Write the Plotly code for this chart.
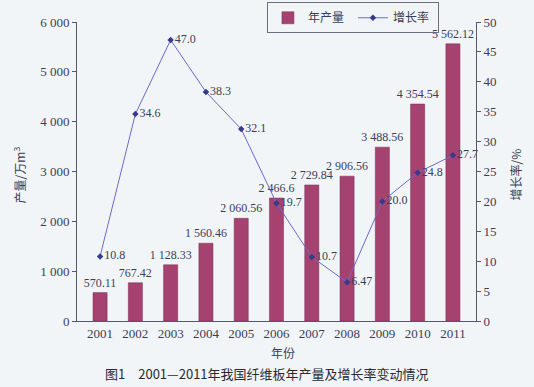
import plotly.graph_objects as go

years = ["2001", "2002", "2003", "2004", "2005", "2006", "2007", "2008", "2009", "2010", "2011"]
output = [570.11, 767.42, 1128.33, 1560.46, 2060.56, 2466.6, 2729.84, 2906.56, 3488.56, 4354.54, 5562.12]
output_labels = ["570.11", "767.42", "1 128.33", "1 560.46", "2 060.56", "2 466.6", "2 729.84",
                 "2 906.56", "3 488.56", "4 354.54", "5 562.12"]
growth = [10.8, 34.6, 47.0, 38.3, 32.1, 19.7, 10.7, 6.47, 20.0, 24.8, 27.7]
growth_labels = ["10.8", "34.6", "47.0", "38.3", "32.1", "19.7", "10.7", "6.47", "20.0", "24.8", "27.7"]
left_ticks = [0, 1000, 2000, 3000, 4000, 5000, 6000]
left_tick_text = ["0", "1 000", "2 000", "3 000", "4 000", "5 000", "6 000"]
right_ticks = [0, 5, 10, 15, 20, 25, 30, 35, 40, 45, 50]

serif = "Liberation Serif, Times New Roman, serif"
cjk = "Noto Sans CJK SC"
axis_col = "#55586a"
txt_col = "#3a3d55"

fig = go.Figure()
fig.add_trace(go.Bar(
    x=years, y=output, name="年产量",
    marker=dict(color="#a5426f", line=dict(color="#7a2c50", width=0.5)),
    text=output_labels, textposition="outside", cliponaxis=False, constraintext="none",
    textfont=dict(family=serif, size=12, color=txt_col),
))
fig.add_trace(go.Scatter(
    x=years, y=growth, name="增长率", yaxis="y2", mode="lines+markers+text",
    line=dict(color="#6a6ac8", width=1),
    marker=dict(symbol="diamond", size=5, color="#353a8c"),
    text=growth_labels, textposition="middle right", cliponaxis=False,
    textfont=dict(family=serif, size=12, color=txt_col),
))

fig.update_layout(
    width=534, height=387,
    margin=dict(l=77, r=58, t=22, b=66, autoexpand=False),
    paper_bgcolor="#f2f5f8", plot_bgcolor="#f2f5f8",
    bargap=0.6,
    showlegend=True,
    legend=dict(orientation="h", x=0.476, y=1.066, xanchor="left", yanchor="top",
                bordercolor="#6a6d80", borderwidth=1, bgcolor="rgba(0,0,0,0)",
                font=dict(family=cjk, size=12, color=txt_col),
                itemwidth=30, tracegroupgap=0, entrywidth=40),
    xaxis=dict(showline=True, linecolor=axis_col, linewidth=1, ticks="", showgrid=False,
               tickfont=dict(family=serif, size=13, color=txt_col)),
    yaxis=dict(range=[0, 6000], tickvals=left_ticks, ticktext=left_tick_text,
               showline=True, linecolor=axis_col, linewidth=1, ticks="outside", ticklen=4,
               tickcolor=axis_col, showgrid=False, zeroline=False,
               tickfont=dict(family=serif, size=13, color=txt_col)),
    yaxis2=dict(range=[0, 50], tickvals=right_ticks, overlaying="y", side="right",
                showline=True, linecolor=axis_col, linewidth=1, ticks="outside", ticklen=4,
                tickcolor=axis_col, showgrid=False, zeroline=False,
                tickfont=dict(family=serif, size=13, color=txt_col)),
    annotations=[
        dict(text="图1　2001—2011年我国纤维板年产量及增长率变动情况", xref="paper", yref="paper",
             x=0.476, y=-0.174, xanchor="center", yanchor="middle", showarrow=False,
             font=dict(family=cjk, size=13, color="#2a2a30")),
        dict(text="年份", xref="paper", yref="paper", x=0.516, y=-0.104, xanchor="center", yanchor="middle",
             showarrow=False, font=dict(family=cjk, size=12, color=txt_col)),
        dict(text="产量/万m<sup>3</sup>", xref="paper", yref="paper", x=-0.143, y=0.49, xanchor="center",
             yanchor="middle", textangle=-90, showarrow=False, font=dict(family=cjk, size=12, color=txt_col)),
        dict(text="增长率/%", xref="paper", yref="paper", x=1.10, y=0.49, xanchor="center",
             yanchor="middle", textangle=-90, showarrow=False, font=dict(family=cjk, size=12, color=txt_col)),
    ],
)
fig.write_html("out.html", config={"displayModeBar": False},
               post_script="document.body.style.margin='0';document.body.style.overflow='hidden';")
